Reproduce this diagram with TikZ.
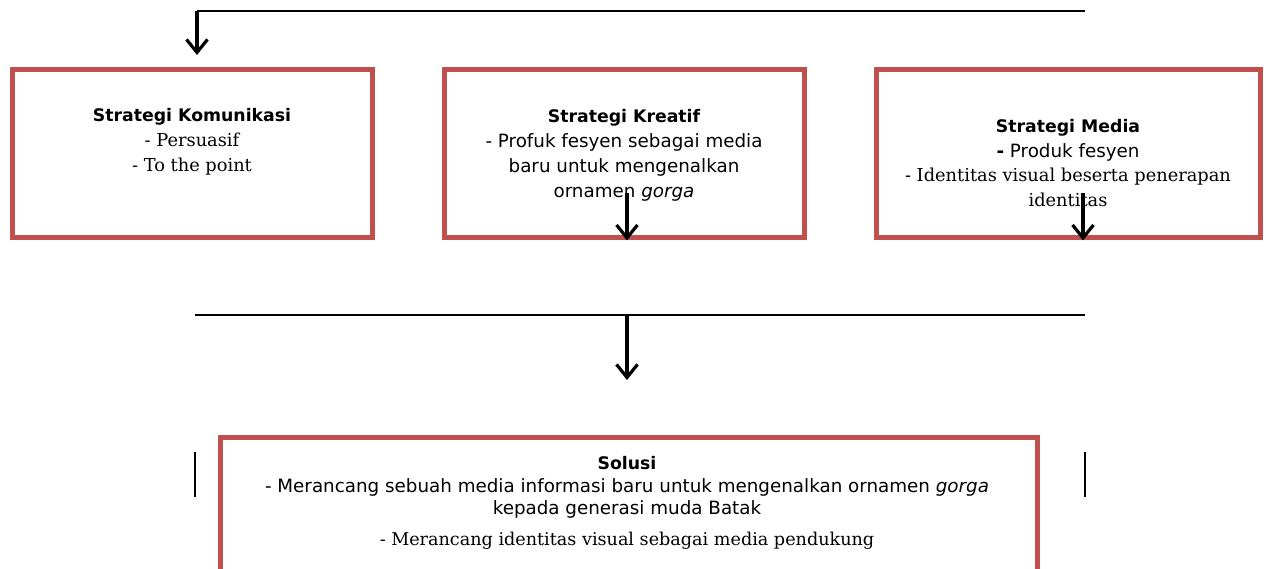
\documentclass[tikz,border=0pt]{standalone}
\usepackage{fontspec}
\setmainfont{DejaVu Serif}
\newfontfamily\tah{DejaVu Sans}
\usetikzlibrary{arrows.meta}
\definecolor{boxred}{HTML}{C0504D}
\newcommand{\hdfont}{\tah\bfseries\fontsize{17.3}{25}\selectfont}
\newcommand{\sfnt}{\tah\fontsize{18.3}{25}\selectfont}
\begin{document}
\begin{tikzpicture}[x=1pt,y=-1pt,
  box/.style={draw=boxred,line width=5pt,minimum width=#1,inner sep=0pt},
  conn/.style={line width=2pt},
  arr/.style={line width=3.2pt,-{Straight Barb[length=13pt,width=21pt,line width=3.2pt]}},
  txt/.style={align=center,inner sep=0pt,font=\fontsize{17.8}{25}\selectfont}]
\useasboundingbox (0,0) rectangle (1266,569);
\clip (0,0) rectangle (1266,569);
% boxes
\node[box=360pt,minimum height=168pt] (b1) at (192,154) {};
\node[box=360pt,minimum height=168pt] (b2) at (624,154) {};
\node[box=384pt,minimum height=168pt] (b3) at (1068,154) {};
\node[box=817pt,minimum height=163pt] (b4) at (628.5,518.5) {};
% texts
\node[txt] (t1) at (192,142) {{\hdfont Strategi Komunikasi}\\- Persuasif\\- To the point};
\node[txt] (t2) at (624,155) {{\hdfont Strategi Kreatif}\\{\sfnt - Profuk fesyen sebagai media}\\{\sfnt baru untuk mengenalkan}\\{\sfnt ornamen \itshape gorga}};
\node[txt,font=\fontsize{17.8}{24.5}\selectfont] (t3) at (1068,163) {{\hdfont Strategi Media}\\{\sfnt \textbf{-} Produk fesyen}\\- Identitas visual beserta penerapan\\identitas};
\node[txt,font=\fontsize{17.6}{22.5}\selectfont] (t4) at (627,503) {{\hdfont Solusi}\\{\sfnt - Merancang sebuah media informasi baru untuk mengenalkan ornamen \itshape gorga}\\{\sfnt kepada generasi muda Batak}\\[8pt]- Merancang identitas visual sebagai media pendukung};
% connectors
\coordinate (topR) at (1085,11);
\coordinate (topL) at (197,11);
\coordinate (a1) at (197,55);
\draw[conn] (topR) -- (topL);
\draw[arr] (topL) -- (a1);
\coordinate (s2) at (627,193);
\coordinate (s3) at (1083,193);
\draw[arr] (s2) -- (s2 |- b2.south);
\draw[arr] (s3) -- (s3 |- b3.south);
\coordinate (mL) at (195,315);
\coordinate (mR) at (1085,315);
\coordinate (mC) at (627,315);
\coordinate (a4) at (627,380);
\draw[conn] (mL) -- (mR);
\draw[arr] (mC) -- (a4);
\coordinate (vL1) at (195,452);
\coordinate (vL2) at (195,497);
\coordinate (vR1) at (1085,452);
\coordinate (vR2) at (1085,497);
\draw[line width=1.2pt] (vL1) -- (vL2);
\draw[line width=1.2pt] (vR1) -- (vR2);
\end{tikzpicture}
\end{document}
